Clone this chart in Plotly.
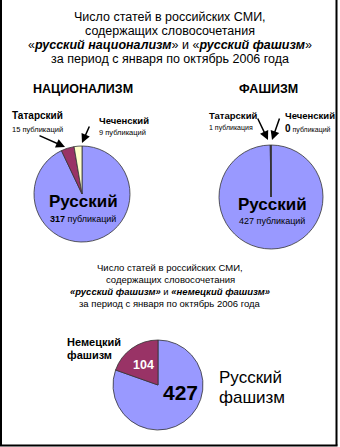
import plotly.graph_objects as go

W, H = 340, 447

# --- data ---
nat_labels = ["Русский", "Татарский", "Чеченский"]
nat_values = [317, 15, 9]
fas_labels = ["Русский", "Татарский", "Чеченский"]
fas_values = [427, 1, 0]
cmp_labels = ["Русский фашизм", "Немецкий фашизм"]
cmp_values = [427, 104]

colors = {"Русский": "#9999FF", "Татарский": "#993366", "Чеченский": "#FFFFCC",
          "Немецкий фашизм": "#993366", "Русский фашизм": "#9999FF"}

FONT = "Liberation Sans, Arial, sans-serif"


def px(x):
    return x / W


def py(y):
    return 1 - y / H


def domain(cx, cy, r):
    return dict(x=[px(cx - r), px(cx + r)], y=[py(cy + r), py(cy - r)])


def pie(labels, values, dom):
    # clockwise from 12 o'clock, so the small slices end up just left of the top
    return go.Pie(
        labels=labels, values=values, sort=False, direction="clockwise",
        rotation=0, textinfo="none", hoverinfo="label+value",
        marker=dict(colors=[colors[l] for l in labels], line=dict(color="#333333", width=0.8)),
        domain=dom, showlegend=False,
    )


fig = go.Figure()
fig.add_trace(pie(nat_labels, nat_values, domain(82, 194, 48)))
fig.add_trace(pie(fas_labels, fas_values, domain(271, 197, 52)))
fig.add_trace(pie(cmp_labels, cmp_values, domain(158, 385, 45)))

nat = dict(zip(nat_labels, nat_values))
fas = dict(zip(fas_labels, fas_values))
cmp_ = dict(zip(cmp_labels, cmp_values))

ann = []


def text(x, y, s, size, bold=False, color="black", xanchor="center", family=FONT):
    if bold:
        s = "<b>" + s + "</b>"
    ann.append(dict(x=px(x), y=py(y), xref="paper", yref="paper", text=s, showarrow=False,
                    xanchor=xanchor, yanchor="middle",
                    font=dict(size=size, color=color, family=family)))


def arrow(x0, y0, x1, y1):
    ann.append(dict(x=px(x1), y=py(y1), ax=x0 - x1, ay=y0 - y1, xref="paper", yref="paper",
                    text="", showarrow=True, standoff=0,
                    arrowhead=2, arrowsize=1.2, arrowwidth=1.5, arrowcolor="black"))


# main heading
title_lines = [
    "Число статей в российских СМИ,",
    "содержащих словосочетания",
    "«<b><i>русский национализм</i></b>» и «<b><i>русский фашизм</i></b>»",
    "за период с января по октябрь 2006 года",
]
for i, line in enumerate(title_lines):
    text(170, 17 + i * 14, line, 12.5)

text(83, 89, "НАЦИОНАЛИЗМ", 12.5, bold=True)
text(268, 89, "ФАШИЗМ", 12.5, bold=True)

# national pie labels
text(10, 115, "Татарский", 10, bold=True, xanchor="left")
text(10, 129, f"{nat['Татарский']} публикаций", 7.5, xanchor="left")
text(97, 120, "Чеченский", 9.5, bold=True, xanchor="left")
text(97, 132, f"{nat['Чеченский']} публикаций", 7.5, xanchor="left")
arrow(38, 135, 65, 147)
arrow(90, 125, 82, 143)
text(83, 202, "Русский", 17, bold=True)
text(83, 219, f"<b>{nat['Русский']}</b> публикаций", 9)

# fascism pie labels
text(207, 115, "Татарский", 9.5, bold=True, xanchor="left")
text(207, 128, f"{fas['Татарский']} публикация", 7, xanchor="left")
text(283, 115, "Чеченский", 9.5, bold=True, xanchor="left")
text(283, 128, f"<b><span style='font-size:10px'>{fas['Чеченский']}</span></b> публикаций", 7, xanchor="left")
arrow(257, 117, 268, 140)
arrow(280, 117, 272, 140)
text(272, 204, "Русский", 17, bold=True)
text(272, 221, f"{fas['Русский']} публикаций", 9)

# second heading
sub_lines = [
    "Число статей в российских СМИ,",
    "содержащих словосочетания",
    "<b><i>«русский фашизм»</i></b> и <b><i>«немецкий фашизм»</i></b>",
    "за период с января по октябрь 2006 года",
]
for i, line in enumerate(sub_lines):
    text(170, 267 + i * 12.3, line, 9.5)

# comparison pie labels
text(65, 342, "Немецкий", 11, bold=True, xanchor="left")
text(65, 355, "фашизм", 11, bold=True, xanchor="left")
text(143, 365, str(cmp_["Немецкий фашизм"]), 12.5, bold=True, color="white")
text(180, 392, str(cmp_["Русский фашизм"]), 21, bold=True)
text(217, 377, "Русский", 17, xanchor="left")
text(217, 397, "фашизм", 17, xanchor="left")

# frame on left, right and bottom
shapes = [
    dict(type="line", xref="paper", yref="paper", x0=px(1), x1=px(1), y0=py(0), y1=py(445.5),
         line=dict(color="black", width=2)),
    dict(type="line", xref="paper", yref="paper", x0=px(336.5), x1=px(336.5), y0=py(0), y1=py(445.5),
         line=dict(color="black", width=2)),
    dict(type="line", xref="paper", yref="paper", x0=px(0), x1=px(337.5), y0=py(445.5), y1=py(445.5),
         line=dict(color="black", width=2)),
]

fig.update_layout(
    width=W, height=H, margin=dict(l=0, r=0, t=0, b=0),
    paper_bgcolor="white", plot_bgcolor="white",
    annotations=ann, shapes=shapes, font=dict(family=FONT),
)

fig.write_html("out.html")
